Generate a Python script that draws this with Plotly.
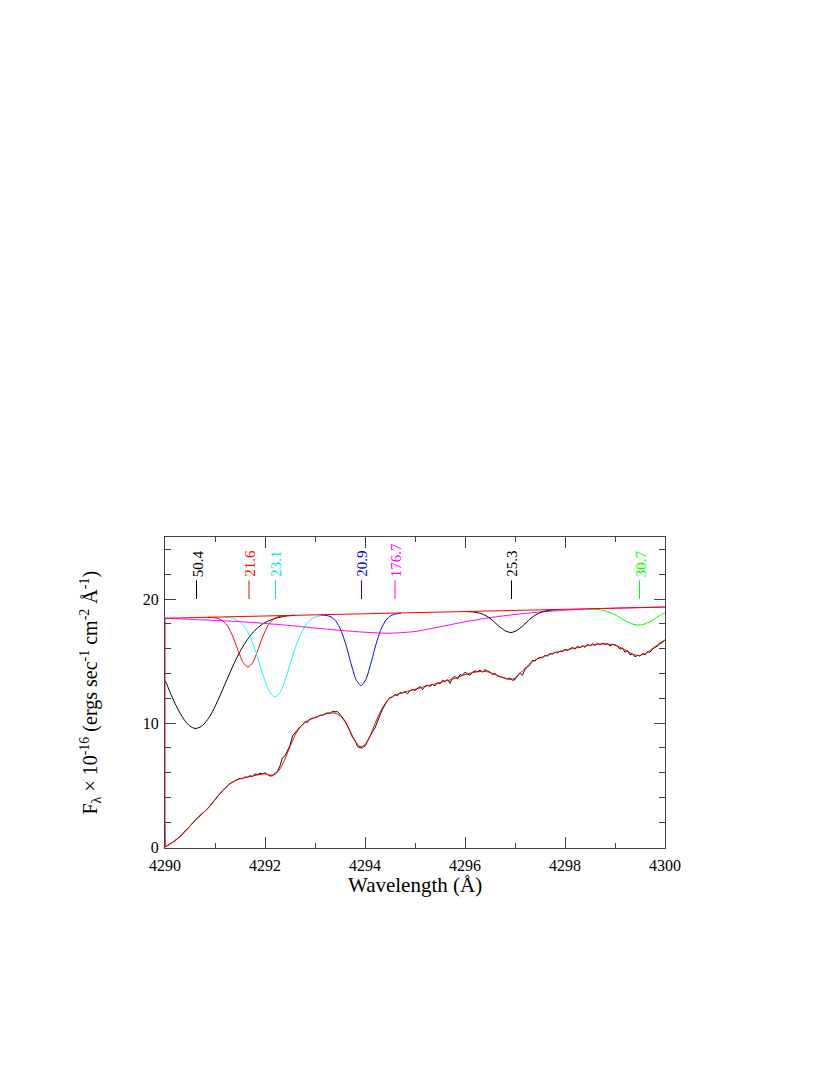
import plotly.graph_objects as go

# ---------------- data ----------------
# observed spectrum (black), 0.05 A sampling
obs_x0, obs_step = 4290.0, 0.05
obs_flux = [
    0.0, 0.1, 0.25, 0.38, 0.5, 0.68, 0.85, 1.02, 1.3, 1.45,
    1.7, 1.92, 2.2, 2.35, 2.52, 2.75, 2.9, 3.08, 3.3, 3.55,
    3.82, 4.1, 4.28, 4.55, 4.78, 4.92, 5.12, 5.22, 5.38, 5.45,
    5.55, 5.5, 5.65, 5.62, 5.75, 5.68, 5.9, 5.85, 5.95, 5.9,
    5.98, 5.85, 5.72, 5.75, 5.9, 6.1, 6.55, 7.2, 7.35, 7.8,
    8.2, 8.95, 9.25, 9.45, 9.7, 9.85, 10.1, 10.05, 10.3, 10.35,
    10.45, 10.5, 10.62, 10.6, 10.75, 10.82, 10.78, 10.95, 10.9, 10.92,
    10.7, 10.45, 10.15, 9.8, 9.35, 8.85, 8.6, 8.1, 8.0, 8.0,
    8.15, 8.55, 9.0, 9.3, 9.6, 10.2, 10.65, 11.1, 11.5, 11.85,
    12.05, 12.1, 12.3, 12.2, 12.45, 12.4, 12.55, 12.35, 12.6, 12.7,
    12.62, 12.75, 12.95, 12.7, 12.95, 13.05, 12.95, 13.1, 13.0, 13.25,
    13.15, 13.45, 13.35, 13.5, 13.2, 13.65, 13.75, 13.55, 13.9, 13.85,
    14.1, 13.95, 13.85, 14.1, 14.2, 14.15, 14.25, 14.1, 14.3, 14.2,
    14.1, 13.9, 14.0, 13.8, 13.75, 13.65, 13.6, 13.55, 13.62, 13.45,
    13.5, 13.85, 14.05, 13.85, 14.35, 14.55, 14.7, 15.05, 15.0, 15.2,
    15.3, 15.25, 15.45, 15.4, 15.6, 15.55, 15.7, 15.65, 15.8, 15.75,
    15.95, 15.85, 16.0, 16.1, 15.95, 16.2, 16.05, 16.25, 16.1, 16.35,
    16.2, 16.4, 16.25, 16.45, 16.3, 16.45, 16.35, 16.4, 16.2, 16.35,
    16.3, 16.2, 15.95, 16.05, 15.7, 15.85, 15.5, 15.55, 15.35, 15.45,
    15.4, 15.6, 15.5, 15.75, 15.7, 15.95, 16.1, 16.2, 16.4, 16.5,
    16.7,
]
obs_wave = [round(obs_x0 + i * obs_step, 3) for i in range(len(obs_flux))]

# fitted model (red), 0.1 A sampling
fit_x0, fit_step = 4290.0, 0.1
fit_flux = [
    0.0, 0.25, 0.5, 0.85, 1.25, 1.7, 2.15, 2.55, 2.9, 3.3,
    3.8, 4.3, 4.75, 5.1, 5.35, 5.5, 5.6, 5.68, 5.76, 5.85,
    5.9, 5.8, 5.85, 6.3, 7.1, 8.1, 9.0, 9.65, 10.05, 10.3,
    10.45, 10.6, 10.72, 10.8, 10.8, 10.6, 10.1, 9.35, 8.55, 8.1,
    8.25, 8.95, 9.95, 10.85, 11.55, 12.0, 12.25, 12.38, 12.5, 12.62,
    12.72, 12.83, 12.95, 13.06, 13.15, 13.26, 13.37, 13.47, 13.6, 13.75,
    13.9, 14.01, 14.1, 14.15, 14.15, 14.08, 13.92, 13.75, 13.6, 13.52,
    13.6, 14.0, 14.4, 14.8, 15.08, 15.25, 15.4, 15.55, 15.68, 15.78,
    15.88, 15.96, 16.04, 16.12, 16.2, 16.27, 16.32, 16.36, 16.37, 16.35,
    16.28, 16.1, 15.89, 15.65, 15.48, 15.45, 15.6, 15.85, 16.15, 16.45,
    16.7,
]
fit_wave = [round(fit_x0 + i * fit_step, 3) for i in range(len(fit_flux))]

# continuum (red)
cont_wave = [4290.0, 4290.0, 4300.0]
cont_flux = [0.0, 18.45, 19.35]

# individual line components
comp1_wave = [4290.0, 4290.0, 4290.1, 4290.2, 4290.3, 4290.4, 4290.5, 4290.6, 4290.7, 4290.8, 4290.9,
              4291.0, 4291.1, 4291.2, 4291.3, 4291.4, 4291.5, 4291.6, 4291.7, 4291.8, 4291.9,
              4292.0, 4292.1, 4292.2, 4292.3, 4292.4, 4292.6]
comp1_flux = [0.0, 13.4, 12.48, 11.59, 10.8, 10.17, 9.75, 9.56, 9.66, 10.0, 10.57,
              11.33, 12.2, 13.14, 14.07, 14.96, 15.76, 16.44, 17.02, 17.48, 17.83,
              18.1, 18.29, 18.43, 18.53, 18.62, 18.68]

comp2_wave = [4290.86, 4290.96, 4291.06, 4291.16, 4291.26, 4291.36, 4291.46, 4291.56, 4291.66,
              4291.76, 4291.86, 4291.96, 4292.06, 4292.16, 4292.26, 4292.36, 4292.46]
comp2_flux = [18.53, 18.5, 18.43, 18.23, 17.77, 16.94, 15.87, 14.89, 14.5,
              14.91, 15.91, 17.01, 17.86, 18.34, 18.56, 18.64, 18.67]

comp3_wave = [4291.2, 4291.3, 4291.4, 4291.5, 4291.6, 4291.7, 4291.8, 4291.9, 4292.0, 4292.1, 4292.2,
              4292.3, 4292.4, 4292.5, 4292.6, 4292.7, 4292.8, 4292.9, 4293.0, 4293.1, 4293.2]
comp3_flux = [18.55, 18.51, 18.38, 18.16, 17.71, 16.98, 15.92, 14.65, 13.38, 12.44, 12.1,
              12.46, 13.42, 14.71, 16.0, 17.07, 17.82, 18.29, 18.54, 18.66, 18.71]

comp4_wave = [4293.12, 4293.22, 4293.32, 4293.42, 4293.52, 4293.62, 4293.72, 4293.82, 4293.92,
              4294.02, 4294.12, 4294.22, 4294.32, 4294.42, 4294.52, 4294.62, 4294.72]
comp4_flux = [18.73, 18.68, 18.56, 18.2, 17.48, 16.29, 14.8, 13.51, 13.0,
              13.53, 14.84, 16.35, 17.56, 18.3, 18.66, 18.8, 18.87]

comp5_wave = [4290.0, 4290.5, 4291.0, 4291.5, 4292.0, 4292.5, 4293.0, 4293.5, 4294.0, 4294.5,
              4295.0, 4295.5, 4296.0, 4296.5, 4297.0, 4297.5, 4298.0, 4298.5, 4299.0, 4299.5, 4300.0]
comp5_flux = [18.44, 18.36, 18.27, 18.17, 18.03, 17.86, 17.66, 17.47, 17.32, 17.24,
              17.38, 17.76, 18.16, 18.5, 18.75, 18.95, 19.1, 19.2, 19.26, 19.31, 19.35]

comp6_wave = [4296.02, 4296.12, 4296.22, 4296.32, 4296.42, 4296.52, 4296.62, 4296.72, 4296.82, 4296.92,
              4297.02, 4297.12, 4297.22, 4297.32, 4297.42, 4297.52, 4297.62, 4297.72, 4297.82]
comp6_flux = [18.98, 18.97, 18.92, 18.83, 18.65, 18.37, 18.02, 17.67, 17.4, 17.3,
              17.42, 17.71, 18.08, 18.45, 18.74, 18.93, 19.04, 19.11, 19.14]

comp7_wave = [4298.48, 4298.58, 4298.68, 4298.78, 4298.88, 4298.98, 4299.08, 4299.18, 4299.28, 4299.38,
              4299.48, 4299.58, 4299.68, 4299.78, 4299.88, 4299.98, 4300.0]
comp7_flux = [19.19, 19.17, 19.14, 19.06, 18.94, 18.77, 18.55, 18.31, 18.1, 17.95,
              17.9, 17.97, 18.14, 18.37, 18.63, 18.85, 18.9]

# line labels (equivalent widths)
label_wave = [4290.63, 4291.68, 4292.21, 4293.93, 4294.6, 4296.93, 4299.49]
label_text = ["50.4", "21.6", "23.1", "20.9", "176.7", "25.3", "30.7"]
label_color = ["#000000", "#ff0000", "#00e5e5", "#0000ff", "#ff00ff", "#000000", "#00ff00"]

x_ticks = [4290, 4292, 4294, 4296, 4298, 4300]
y_ticks = [0, 10, 20]

# ---------------- figure ----------------
SERIF = "Liberation Serif"
fig = go.Figure()

comps = [
    (comp1_wave, comp1_flux, "#000000"),
    (comp2_wave, comp2_flux, "#ff0000"),
    (comp3_wave, comp3_flux, "#00ffff"),
    (comp4_wave, comp4_flux, "#0000ff"),
    (comp5_wave, comp5_flux, "#ff00ff"),
    (comp6_wave, comp6_flux, "#000000"),
    (comp7_wave, comp7_flux, "#00ff00"),
]
for wx, fy, col in comps:
    fig.add_trace(go.Scatter(x=wx, y=fy, mode="lines",
                             line=dict(color=col, width=1, shape="spline", smoothing=0.6),
                             showlegend=False, hoverinfo="skip"))

fig.add_trace(go.Scatter(x=obs_wave, y=obs_flux, mode="lines",
                         line=dict(color="#111111", width=1), showlegend=False))
fig.add_trace(go.Scatter(x=fit_wave, y=fit_flux, mode="lines",
                         line=dict(color="#ff0000", width=1, shape="spline", smoothing=0.6),
                         showlegend=False))
fig.add_trace(go.Scatter(x=cont_wave, y=cont_flux, mode="lines",
                         line=dict(color="#ff0000", width=1), showlegend=False))

# label ticks + texts
for wx, txt, col in zip(label_wave, label_text, label_color):
    fig.add_shape(type="line", xref="x", yref="y", x0=wx, x1=wx, y0=20.0, y1=21.5,
                  line=dict(color=col, width=1))
    fig.add_annotation(x=wx, y=21.6, xref="x", yref="y", text=txt, showarrow=False,
                       textangle=-90, xanchor="center", yanchor="bottom", xshift=1,
                       font=dict(family=SERIF, size=15, color=col))

# axis titles
fig.add_annotation(x=0.5, y=-0.12, xref="paper", yref="paper", showarrow=False,
                   text="Wavelength (Å)", xanchor="center", yanchor="middle",
                   font=dict(family=SERIF, size=21, color="#000000"))
fig.add_annotation(x=-0.15, y=0.5, xref="paper", yref="paper", showarrow=False,
                   text="F<sub>λ</sub> × 10<sup>-16</sup> (ergs sec<sup>-1</sup> cm<sup>-2</sup> Å<sup>-1</sup>)",
                   textangle=-90, xanchor="center", yanchor="middle",
                   font=dict(family=SERIF, size=20, color="#000000"))

axis_common = dict(showline=True, linecolor="#444444", linewidth=1, mirror="ticks",
                   ticks="inside", ticklen=11, tickwidth=1, tickcolor="#444444",
                   showgrid=False, zeroline=False,
                   tickfont=dict(family=SERIF, size=16, color="#000000"))

fig.update_xaxes(range=[4290, 4300], tickvals=x_ticks, ticktext=[str(v) for v in x_ticks],
                 minor=dict(dtick=1, ticks="inside", ticklen=5, tickcolor="#444444", showgrid=False),
                 ticklabelstandoff=3, **axis_common)
fig.update_yaxes(range=[-0.08, 25], tickvals=y_ticks, ticktext=[str(v) for v in y_ticks],
                 minor=dict(dtick=2, ticks="inside", ticklen=6, tickcolor="#444444", showgrid=False),
                 ticklabelstandoff=2, **axis_common)

fig.update_layout(width=830, height=1075, autosize=False,
                  margin=dict(l=157, r=173, t=529, b=235),
                  font=dict(family=SERIF, size=16, color="#000000"),
                  paper_bgcolor="white", plot_bgcolor="white",
                  showlegend=False)

fig.write_html("out.html")
